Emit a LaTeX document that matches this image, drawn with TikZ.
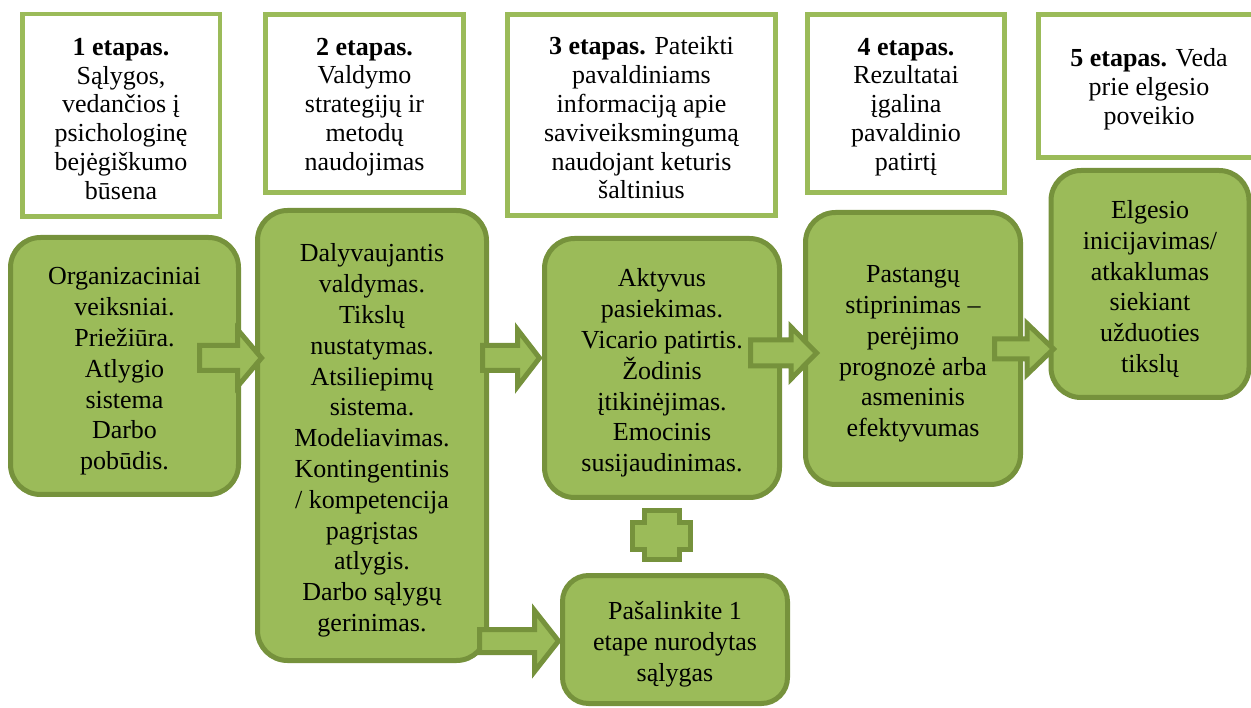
\documentclass[tikz,border=0pt]{standalone}
\usepackage{fontspec}
\setmainfont{Liberation Serif}
\definecolor{gfill}{HTML}{9BBB59}
\definecolor{gdark}{HTML}{76923C}
\newcommand{\blockarr}[6]{%
  \draw[blockarrow] (#1,#3-#4) -- (#6,#3-#4) -- (#6,#3-#5) -- (#2,#3) -- (#6,#3+#5) -- (#6,#3+#4) -- (#1,#3+#4) -- cycle;}
\newcommand{\tpad}[1]{\rule{0pt}{#1}}
\begin{document}
\begin{tikzpicture}[x=1pt,y=-1pt,
  topbox/.style={draw=gfill, line width=4.5pt, fill=white, align=center, inner sep=0pt,
    font=\fontsize{26}{28.8}\selectfont},
  greenbox/.style={draw=gdark, line width=5pt, fill=gfill, rounded corners=30pt, align=center,
    inner sep=0pt, font=\fontsize{26}{30.8}\selectfont},
  blockarrow/.style={draw=gdark, line width=5pt, fill=gfill, line join=miter}]
\useasboundingbox (0,0) rectangle (1251,708);

% top stage boxes
\node[topbox, minimum width=197.5pt, minimum height=202.5pt] (t1) at (121,115.5)
  {\tpad{24pt}\textbf{1 etapas.}\\ Sąlygos,\\ vedančios į\\ psichologinę\\ bejėgiškumo\\ būsena};
\node[topbox, minimum width=198pt, minimum height=178pt] (t2) at (364.5,103.5)
  {\tpad{24pt}\textbf{2 etapas.}\\ Valdymo\\ strategijų ir\\ metodų\\ naudojimas};
\node[topbox, minimum width=268pt, minimum height=201pt] (t3) at (641.5,115)
  {\tpad{24pt}\textbf{3 etapas.} Pateikti\\ pavaldiniams\\ informaciją apie\\ saviveiksmingumą\\ naudojant keturis\\ šaltinius};
\node[topbox, minimum width=197pt, minimum height=178pt] (t4) at (906,103.5)
  {\tpad{24pt}\textbf{4 etapas.}\\ Rezultatai\\ įgalina\\ pavaldinio\\ patirtį};
\node[topbox, minimum width=221pt, minimum height=143pt] (t5) at (1149,86)
  {\tpad{24pt}\textbf{5 etapas.} Veda\\ prie elgesio\\ poveikio};

% green boxes
\node[greenbox, minimum width=228pt, minimum height=257pt] (a) at (124.5,366)
  {\tpad{28pt}Organizaciniai\\ veiksniai.\\ Priežiūra.\\ Atlygio\\ sistema\\ Darbo\\ pobūdis.};
\node[greenbox, minimum width=229pt, minimum height=450pt] (b) at (372,435.5)
  {\tpad{28pt}Dalyvaujantis\\ valdymas.\\ Tikslų\\ nustatymas.\\ Atsiliepimų\\ sistema.\\ Modeliavimas.\\ Kontingentinis\\ / kompetencija\\ pagrįstas\\ atlygis.\\ Darbo sąlygų\\ gerinimas.};
\node[greenbox, minimum width=235pt, minimum height=259pt] (c) at (662,368)
  {\tpad{28pt}Aktyvus\\ pasiekimas.\\ Vicario patirtis.\\ Žodinis\\ įtikinėjimas.\\ Emocinis\\ susijaudinimas.};
\node[greenbox, minimum width=215pt, minimum height=272pt] (d) at (913,348.5)
  {\tpad{28pt}Pastangų\\ stiprinimas –\\ perėjimo\\ prognozė arba\\ asmeninis\\ efektyvumas};
\node[greenbox, minimum width=198pt, minimum height=227pt] (e) at (1150,284)
  {\tpad{28pt}Elgesio\\ inicijavimas/\\ atkaklumas\\ siekiant\\ užduoties\\ tikslų};
\node[greenbox, minimum width=225pt, minimum height=128pt, rounded corners=26pt] (f) at (675,639.5)
  {\tpad{28pt}Pašalinkite 1\\ etape nurodytas\\ sąlygas};

% block arrows: tail x, tip x, centre y, body half, head half, head start x
\blockarr{199.5}{261.5}{358}{12.5}{28.5}{237.5}
\blockarr{482.5}{539.5}{358}{12.5}{28.5}{517.5}
\blockarr{750.5}{816.5}{353}{13}{26}{791}
\blockarr{994.5}{1053.5}{349}{10}{25.5}{1027}
\blockarr{479.5}{558.5}{641}{11.5}{30.5}{534.5}

% plus sign between c and f
\draw[draw=gdark, line width=4.5pt, fill=gfill, line join=miter]
  (644.5,510.5) -- (679.5,510.5) -- (679.5,522.5) -- (690.5,522.5) -- (690.5,549.5)
  -- (679.5,549.5) -- (679.5,559.5) -- (644.5,559.5) -- (644.5,549.5) -- (632.5,549.5)
  -- (632.5,522.5) -- (644.5,522.5) -- cycle;
\end{tikzpicture}
\end{document}
